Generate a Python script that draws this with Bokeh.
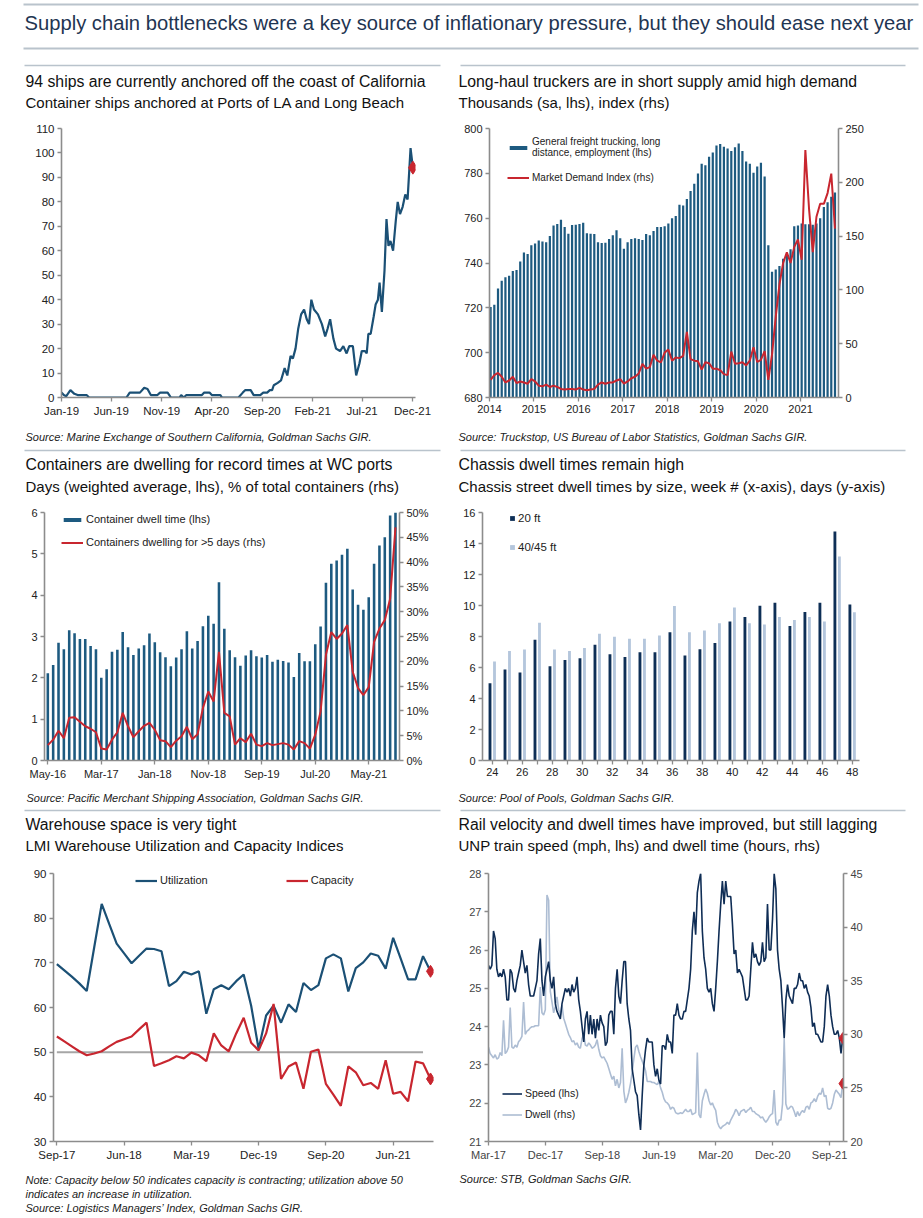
import numpy as np
import pandas as pd
from bokeh.plotting import figure
from bokeh.layouts import column, row
from bokeh.models import (Range1d, LinearAxis, FixedTicker, Legend, LegendItem,
                          DatetimeTickFormatter)
from bokeh.core.properties import value
from bokeh.embed import file_html
from bokeh.resources import INLINE

FONT = "Liberation Sans"
NAVY = "#1b5075"
BAR = "#1d5a80"
RED = "#c8262f"
AXIS = "#8c8c8c"
TXT = "#222222"
TTL = "#111111"
RULE = "#b9c3cc"

# ---------------- Panel 1: ships anchored ----------------
ships_dates = [
    "2019-01-01", "2019-01-08", "2019-01-15", "2019-01-28", "2019-02-09", "2019-02-19",
    "2019-03-18", "2019-03-26", "2019-07-17", "2019-07-27", "2019-08-27", "2019-09-09",
    "2019-09-19", "2019-09-29", "2019-10-19", "2019-10-27", "2019-11-19", "2019-11-29",
    "2019-12-25", "2019-12-30", "2020-01-07", "2020-01-15", "2020-03-02", "2020-03-09",
    "2020-03-25", "2020-04-01", "2020-04-27", "2020-05-02", "2020-06-21", "2020-07-04",
    "2020-07-11", "2020-07-28", "2020-08-06", "2020-08-26", "2020-09-04", "2020-09-16",
    "2020-09-24", "2020-10-01", "2020-10-06", "2020-10-18", "2020-10-28", "2020-11-08",
    "2020-11-16", "2020-11-26", "2020-12-03", "2020-12-11", "2020-12-19", "2020-12-28",
    "2021-01-06", "2021-01-14", "2021-01-21", "2021-01-28", "2021-02-05", "2021-02-17",
    "2021-03-01", "2021-03-11", "2021-03-18", "2021-03-26", "2021-04-05", "2021-04-13",
    "2021-04-25", "2021-05-05", "2021-05-15", "2021-05-23", "2021-06-03", "2021-06-13",
    "2021-06-23", "2021-06-30", "2021-07-10", "2021-07-15", "2021-07-20", "2021-07-27",
    "2021-08-05", "2021-08-11", "2021-08-18", "2021-08-23", "2021-08-30", "2021-09-07",
    "2021-09-13", "2021-09-19", "2021-09-25", "2021-10-03", "2021-10-11", "2021-10-17",
    "2021-10-24", "2021-11-01", "2021-11-09", "2021-11-16", "2021-11-25", "2021-12-02",
]
ships = [
    2, 1, 0.5, 3, 1.5, 1,
    1, 0, 0, 2, 2, 4,
    3.5, 1, 1, 2, 2, 0,
    0, 1, 0, 1, 1, 2,
    2, 1, 1, 0, 0, 2,
    3, 3, 1, 1, 2, 2,
    3, 3, 5, 6, 7, 12,
    9, 17, 16, 20, 28, 34,
    36, 32, 30, 40, 36, 34,
    30, 25, 28, 32, 24, 20,
    19, 21, 18, 21, 21, 9,
    14, 19, 19, 18, 26, 26,
    33, 38, 40, 47, 35, 52,
    73, 62, 64, 60, 72, 80,
    75, 78, 83, 81, 102, 94,
]
ships_ticks = ["2019-01-01", "2019-06-01", "2019-11-01", "2020-04-01", "2020-09-01",
               "2021-02-01", "2021-07-01", "2021-12-01"]
ships_yticks = list(range(0, 111, 10))

# ---------------- Panel 2: trucking ----------------
truck_years = ["2014", "2015", "2016", "2017", "2018", "2019", "2020", "2021"]
truck_emp = [
    720.4, 721.4, 728.6, 732.1, 733.6, 734.3, 736.4, 736.9, 740.7, 744.7, 744.0, 747.9,
    748.7, 750.0, 749.6, 749.3, 752.1, 756.7, 757.4, 759.3, 756.1, 753.1, 756.9, 757.1,
    757.4, 757.9, 753.3, 753.0, 752.9, 749.3, 748.9, 749.0, 750.7, 752.4, 754.6, 751.0,
    746.4, 749.3, 750.7, 751.0, 750.7, 750.3, 752.9, 752.4, 754.3, 756.1, 756.1, 756.4,
    757.6, 760.0, 761.0, 766.0, 765.7, 768.6, 772.1, 775.3, 779.9, 784.3, 783.6, 787.4,
    789.3, 792.4, 793.1, 791.9, 791.1, 790.0, 791.6, 793.3, 790.0, 785.3, 784.3, 780.3,
    783.1, 784.7, 778.6, 747.9, 736.1, 737.1, 738.7, 741.9, 743.6, 746.1, 756.4, 756.7,
    757.6, 757.3, 757.3, 757.1, 757.6, 760.0, 765.0, 767.1, 769.6, 771.4,
]
truck_mdi = [
    16.4, 20.8, 22.9, 19.3, 14.0, 15.8, 19.3, 13.4, 14.9, 14.0, 12.8, 17.0,
    14.9, 11.0, 10.4, 11.9, 9.8, 11.0, 9.8, 8.0, 7.4, 8.0, 8.0, 7.4,
    8.9, 7.4, 6.8, 7.4, 8.0, 11.9, 14.0, 12.8, 14.0, 14.0, 15.8, 17.0,
    12.8, 14.9, 17.9, 19.3, 22.3, 31.3, 26.8, 28.3, 39.6, 34.2, 32.7, 41.7,
    44.6, 34.2, 37.2, 36.6, 38.7, 61.0, 35.7, 34.2, 33.6, 25.9, 32.7, 31.8,
    26.8, 26.8, 25.3, 21.7, 20.8, 42.6, 31.3, 31.8, 32.7, 29.8, 34.2, 46.7,
    33.0, 35.0, 43.2, 16.4, 40.0, 75.0, 105.0, 125.0, 135.0, 125.0, 140.0, 147.0,
    128.0, 230.0, 175.0, 135.0, 168.0, 180.0, 180.0, 190.0, 208.0, 157.0,
]
truck_lticks = list(range(680, 801, 20))
truck_rticks = list(range(0, 251, 50))

# ---------------- Panel 3: container dwell ----------------
dwell_labels = ["May-16", "Mar-17", "Jan-18", "Nov-18", "Sep-19", "Jul-20", "May-21"]
dwell_time = [
    2.11, 2.31, 2.85, 2.69, 3.15, 3.08, 2.94, 2.94, 2.77, 2.69,
    2.0, 2.21, 2.63, 2.68, 3.11, 2.74, 2.55, 2.71, 2.79, 3.07,
    2.86, 2.62, 2.5, 2.28, 2.49, 2.69, 3.13, 2.71, 2.89, 3.25,
    3.5, 3.31, 4.31, 3.19, 2.67, 2.5, 2.29, 2.54, 2.67, 2.52,
    2.49, 2.55, 2.39, 2.44, 2.41, 2.37, 2.02, 2.6, 2.4, 2.4,
    2.81, 3.24, 4.3, 4.76, 4.84, 4.98, 5.12, 4.14, 3.77, 3.65,
    3.95, 4.76, 5.2, 5.4, 5.93, 6.0,
]
dwell_pct = [
    3.1, 4.2, 6.0, 4.5, 8.6, 8.7, 7.8, 6.9, 6.4, 5.7,
    2.4, 2.2, 4.2, 5.7, 9.6, 6.9, 4.7, 5.9, 7.0, 7.6,
    6.2, 4.1, 3.9, 2.7, 4.0, 4.9, 6.8, 4.3, 5.3, 10.6,
    13.9, 11.9, 21.9, 9.6, 8.9, 3.2, 4.5, 3.7, 5.4, 3.2,
    2.9, 3.5, 3.1, 3.3, 3.5, 3.2, 2.2, 3.9, 3.5, 2.4,
    5.2, 9.9, 21.3, 25.9, 24.5, 25.6, 27.3, 17.9, 14.6, 13.2,
    14.8, 23.9, 26.6, 28.3, 32.6, 47.0,
]
dwell_lticks = list(range(0, 7))
dwell_rticks = list(range(0, 51, 5))

# ---------------- Panel 4: chassis dwell ----------------
weeks = list(range(24, 49))
ft20 = [4.99, 5.87, 5.68, 7.79, 6.08, 6.48, 6.59, 7.47, 6.86, 6.67, 6.99, 6.99, 8.27,
        6.78, 7.18, 7.58, 8.97, 9.26, 9.98, 10.17, 8.67, 9.58, 10.17, 14.78, 10.06]
ft40 = [6.38, 7.07, 7.16, 8.88, 7.16, 7.07, 7.26, 8.17, 7.98, 7.85, 7.85, 8.06, 9.96,
        8.27, 8.38, 8.86, 9.87, 8.86, 8.78, 9.26, 9.07, 9.26, 8.97, 13.16, 9.56]
chassis_yticks = list(range(0, 17, 2))

# ---------------- Panel 5: LMI warehouse ----------------
lmi_labels = ["Sep-17", "Jun-18", "Mar-19", "Dec-19", "Sep-20", "Jun-21"]
lmi_util = [69.7, 68.3, 66.9, 65.4, 63.7, 73.5, 83.2, 78.7, 74.3, 72.1,
            69.9, 71.6, 73.2, 73.1, 72.6, 64.8, 65.9, 68.0, 67.4, 68.1,
            58.6, 64.1, 65.0, 64.1, 65.9, 67.4, 60.4, 50.7, 58.2, 60.4,
            56.6, 60.7, 59.0, 65.5, 63.9, 65.0, 71.0, 71.9, 71.0, 63.6,
            68.8, 70.1, 72.1, 71.6, 68.7, 75.6, 71.0, 66.3, 66.3, 71.5,
            68.1]
lmi_cap = [53.5, 52.4, 51.3, 50.2, 49.3, 49.7, 50.2, 51.3, 52.3, 52.9,
           53.5, 55.1, 56.6, 46.9, 47.5, 48.2, 49.1, 48.6, 49.9, 49.3,
           48.0, 54.2, 51.5, 50.2, 54.2, 57.7, 52.1, 50.4, 54.2, 60.8,
           44.0, 46.8, 47.7, 41.8, 50.1, 50.6, 42.9, 40.5, 38.0, 46.8,
           45.5, 42.6, 43.1, 41.8, 48.2, 40.7, 41.1, 39.0, 47.9, 47.5,
           44.0]
lmi_threshold = 50
lmi_yticks = list(range(30, 91, 10))

# ---------------- Panel 6: UNP rail ----------------
rail_start, rail_end = "2017-03-01", "2021-11-03"
rail_speed = [
    25.6, 25.5, 25.6, 26.5, 26.3, 25.5, 25.3, 25.4, 25.3, 25.5,
    25.3, 24.7, 24.7, 25.5, 25.4, 25.0, 24.9, 25.2, 25.4, 25.6,
    26.0, 25.7, 25.4, 25.6, 25.1, 24.8, 24.8, 24.8, 25.0, 25.2,
    25.9, 26.3, 25.2, 24.8, 25.3, 25.5, 25.7, 25.2, 25.0, 25.3,
    24.6, 24.4, 24.3, 24.2, 24.6, 24.8, 25.0, 24.9, 25.0, 24.8,
    25.1, 24.9, 25.0, 25.3, 24.7, 24.4, 24.0, 23.6, 24.2, 24.4,
    23.8, 24.3, 23.8, 24.2, 23.7, 24.2, 23.9, 24.3, 24.1, 24.0,
    23.5, 23.6, 24.3, 24.4, 24.4, 23.8, 25.0, 25.5, 24.8, 24.6,
    25.2, 25.7, 25.7, 24.6, 24.2, 23.9, 22.9, 22.6, 22.3, 22.2,
    21.7, 21.3, 22.2, 23.0, 23.4, 23.7, 23.6, 23.6, 23.6, 23.0,
    22.7, 22.9, 22.6, 22.5, 23.5, 23.5, 23.4, 23.8, 23.6, 23.6,
    23.3, 24.3, 24.3, 24.6, 24.3, 24.2, 24.2, 24.4, 24.4, 24.7,
    25.0, 25.5, 26.5, 27.0, 26.4, 27.5, 27.8, 28.0, 26.5, 25.8,
    25.5, 25.0, 24.9, 25.0, 24.6, 24.4, 25.0, 25.7, 26.5, 27.2,
    27.8, 27.2, 27.8, 27.4, 27.4, 27.4, 26.7, 25.9, 26.0, 25.4,
    25.5, 25.4, 25.3, 25.0, 24.7, 24.7, 24.8, 25.5, 26.2, 25.8,
    25.9, 25.7, 25.6, 25.7, 26.2, 25.7, 25.8, 27.2, 26.0, 26.0,
    26.8, 28.0, 27.6, 26.0, 25.5, 25.2, 24.5, 23.7, 24.7, 25.1,
    24.8, 24.7, 24.6, 25.0, 25.0, 25.1, 25.4, 25.2, 25.2, 25.0,
    25.1, 24.9, 24.8, 24.5, 24.0, 24.1, 23.8, 23.8, 23.7, 23.6,
    23.6, 24.0, 24.8, 25.1, 24.8, 24.3, 24.0, 23.8, 23.8, 23.9,
    23.7, 23.3, 23.7,
]
rail_dwell = [
    28.8, 28.2, 28.0, 27.8, 28.1, 27.7, 27.8, 28.3, 28.0, 31.3,
    28.2, 28.4, 28.8, 32.5, 28.8, 28.7, 29.0, 28.8, 29.3, 29.5,
    29.8, 33.0, 30.0, 30.3, 30.4, 30.6, 30.7, 30.7, 30.8, 30.8,
    30.8, 34.4, 32.0, 31.8, 32.3, 43.0, 42.5, 34.0, 33.0, 32.0,
    32.6, 33.5, 32.3, 31.8, 32.7, 31.5, 31.0, 30.5, 30.0, 29.7,
    29.3, 29.4, 29.0, 29.2, 28.8, 28.7, 29.6, 30.0, 29.0, 28.9,
    29.2, 29.0, 28.7, 28.8, 29.0, 29.5, 28.6, 28.0, 27.8, 27.9,
    27.6, 27.3, 26.8, 26.3, 25.8, 26.1, 25.2, 25.8, 25.0, 25.5,
    28.7, 24.7, 23.6, 24.0, 24.6, 25.4, 26.5, 27.7, 28.8, 29.0,
    28.4, 27.9, 27.5, 27.1, 26.6, 25.6, 25.6, 25.6, 25.5, 25.5,
    25.4, 25.3, 25.6, 25.0, 24.6, 24.0, 23.7, 23.6, 23.4, 23.0,
    23.2, 23.1, 22.7, 22.6, 22.6, 22.7, 22.6, 22.8, 23.0, 22.8,
    22.8, 23.0, 22.5, 22.6, 22.7, 28.3, 22.5, 22.2, 23.8, 24.4,
    24.9, 24.5, 23.8, 23.4, 23.6, 23.2, 22.9, 21.8, 21.4, 21.2,
    21.4, 21.5, 21.6, 21.8, 21.6, 22.0, 22.3, 22.6, 23.0, 22.8,
    22.4, 22.8, 22.9, 23.0, 22.7, 22.9, 23.0, 23.2, 22.8, 22.8,
    22.6, 22.5, 22.4, 22.2, 22.3, 22.0, 21.8, 22.0, 22.3, 22.5,
    22.6, 24.8, 21.8, 21.5, 22.0, 22.0, 23.5, 29.6, 23.5, 23.0,
    23.1, 23.3, 23.2, 22.8, 22.3, 22.8, 22.4, 22.7, 22.9, 22.7,
    23.2, 23.3, 23.0, 23.6, 23.7, 24.0, 23.7, 24.2, 24.5, 24.4,
    25.0, 24.2, 24.3, 23.1, 23.0, 23.1, 23.6, 24.4, 24.8, 24.6,
    24.4, 24.1, 25.4,
]
rail_ticks = ["2017-03-01", "2017-12-01", "2018-09-01", "2019-06-01", "2020-03-01",
              "2020-12-01", "2021-09-01"]
rail_lticks = list(range(21, 29))
rail_rticks = list(range(20, 46, 5))

# ---------------- layout constants (page pixels) ----------------
PAGE_W = 923
LW, RW = 457, 466          # column widths
LX, RX = 0, 457            # column left edges


# ---------------- helpers ----------------
def ms(d):
    return pd.Timestamp(d).value // 10**6


def canvas_fig(y0, h, rules=(), texts=()):
    """Full-width strip for titles, notes and rules; coordinates are page pixels."""
    f = figure(width=PAGE_W, height=h, x_range=Range1d(0, PAGE_W), y_range=Range1d(y0 + h, y0),
               min_border=0, toolbar_location=None, output_backend="svg", title=None,
               x_axis_location=None, y_axis_location=None)
    f.grid.visible = False
    f.outline_line_color = None
    for x0, x1, y, color, lw in rules:
        f.segment(x0=[x0], y0=[y], x1=[x1], y1=[y], line_color=color, line_width=lw)
    for x, y, txt, size, color, style in texts:
        f.text(x=[x], y=[y], text=[txt], text_font=value(FONT), text_font_size=size,
               text_color=color, text_font_style=style, text_baseline="middle",
               text_align="left")
    return f


def panel(x0, y0, w, h, fl, fr, ft, fb, **kw):
    # fl, fr, ft, fb: frame edges in page pixels
    p = figure(width=w, height=h, min_border_left=fl - x0,
               min_border_right=x0 + w - fr, min_border_top=ft - y0,
               min_border_bottom=y0 + h - fb, toolbar_location=None,
               output_backend="svg", title=None, **kw)
    p.grid.visible = False
    p.outline_line_color = None
    return p


def style_axes(p, size="11px", color=TXT):
    for ax in list(p.xaxis) + list(p.yaxis):
        ax.axis_line_color = AXIS
        ax.axis_line_width = 1.6
        ax.major_tick_line_color = AXIS
        ax.major_tick_line_width = 1.3
        ax.major_tick_out = 4
        ax.major_tick_in = 0
        ax.minor_tick_line_color = None
        ax.major_label_text_font = FONT
        ax.major_label_text_font_size = size
        ax.major_label_text_color = color
        ax.major_label_standoff = 3


def make_legend(items, loc, size="11px", gw=22, gh=5, spacing=10, orientation="vertical"):
    return Legend(items=items, location=loc, orientation=orientation,
                  label_text_font=FONT, label_text_font_size=size, label_text_color=TXT,
                  glyph_width=gw, glyph_height=gh, label_standoff=3, spacing=spacing,
                  padding=0, margin=0, label_height=10,
                  border_line_color=None, background_fill_alpha=0)


DTF = DatetimeTickFormatter(days="%b-%y", months="%b-%y", years="%b-%y")
TSZ, SSZ, SRC = "15.8px", "15px", "11px"
IT = "italic"

# ---------------- text strips ----------------
strip_a = canvas_fig(0, 116,
    rules=[(23, 918, 4, RULE, 2), (23, 918, 48, RULE, 2),
           (24, 440, 65, RULE, 1.3), (460, 905, 65, RULE, 1.3)],
    texts=[(24, 22, "Supply chain bottlenecks were a key source of inflationary pressure, but they should ease next year", "20.2px", "#1f3552", "normal"),
           (25, 80.5, "94 ships are currently anchored off the coast of California", TSZ, TTL, "normal"),
           (25, 102, "Container ships anchored at Ports of LA and Long Beach", SSZ, TTL, "normal"),
           (458, 80.5, "Long-haul truckers are in short supply amid high demand", TSZ, TTL, "normal"),
           (458, 102, "Thousands (sa, lhs), index (rhs)", SSZ, TTL, "normal")])

strip_b = canvas_fig(428, 72,
    rules=[(24, 440, 450, RULE, 1.3), (460, 905, 450, RULE, 1.3)],
    texts=[(25, 436, "Source: Marine Exchange of Southern California, Goldman Sachs GIR.", SRC, TXT, IT),
           (458, 436, "Source: Truckstop, US Bureau of Labor Statistics, Goldman Sachs GIR.", SRC, TXT, IT),
           (25, 464, "Containers are dwelling for record times at WC ports", TSZ, TTL, "normal"),
           (25, 486, "Days (weighted average, lhs), % of total containers (rhs)", SSZ, TTL, "normal"),
           (458, 464, "Chassis dwell times remain high", TSZ, TTL, "normal"),
           (458, 486, "Chassis street dwell times by size, week # (x-axis), days (y-axis)", SSZ, TTL, "normal")])

strip_c = canvas_fig(782, 78,
    rules=[(24, 440, 810, RULE, 1.3), (460, 905, 810, RULE, 1.3)],
    texts=[(26, 797, "Source: Pacific Merchant Shipping Association, Goldman Sachs GIR.", SRC, TXT, IT),
           (458, 797, "Source: Pool of Pools, Goldman Sachs GIR.", SRC, TXT, IT),
           (25, 824, "Warehouse space is very tight", TSZ, TTL, "normal"),
           (25, 845, "LMI Warehouse Utilization and Capacity Indices", SSZ, TTL, "normal"),
           (458, 824, "Rail velocity and dwell times have improved, but still lagging", TSZ, TTL, "normal"),
           (458, 845, "UNP train speed (mph, lhs) and dwell time (hours, rhs)", SSZ, TTL, "normal")])

strip_d = canvas_fig(1166, 48,
    texts=[(25, 1179, "Note: Capacity below 50 indicates capacity is contracting; utilization above 50", SRC, TXT, IT),
           (25, 1193, "indicates an increase in utilization.", SRC, TXT, IT),
           (25, 1207, "Source: Logistics Managers\u2019 Index, Goldman Sachs GIR.", SRC, TXT, IT),
           (459, 1178, "Source: STB, Goldman Sachs GIR.", SRC, TXT, IT)])

# ---------------- row 1 (y 116..428) ----------------
p1 = panel(LX, 116, LW, 312, 61, 415, 128, 397, x_axis_type="datetime",
           x_range=Range1d(pd.Timestamp("2019-01-01"), pd.Timestamp("2021-12-10")),
           y_range=Range1d(0, 110))
x1 = pd.to_datetime(ships_dates)
p1.line(x1, ships, line_color=NAVY, line_width=2.2)
p1.scatter([x1[-1]], [ships[-1]], marker="diamond", size=13, color=RED)
p1.xaxis.ticker = FixedTicker(ticks=[ms(d) for d in ships_ticks])
p1.xaxis.formatter = DTF
p1.yaxis.ticker = FixedTicker(ticks=ships_yticks)
style_axes(p1, "11.5px")

p2 = panel(RX, 116, RW, 312, 489, 838, 124, 405,
           x_range=Range1d(0, len(truck_emp) + 0.25), y_range=Range1d(680, 800))
x2 = np.arange(len(truck_emp)) + 0.3
p2.extra_y_ranges = {"r": Range1d(0, 250)}
b2 = p2.vbar(x=x2, top=truck_emp, bottom=680, width=0.6, fill_color=BAR, line_color=None)
l2 = p2.line(x2, truck_mdi, y_range_name="r", line_color=RED, line_width=2)
p2.add_layout(LinearAxis(y_range_name="r", ticker=FixedTicker(ticks=truck_rticks)), "right")
p2.xaxis.ticker = FixedTicker(ticks=[12 * i for i in range(len(truck_years))])
p2.xaxis.major_label_overrides = {12 * i: y for i, y in enumerate(truck_years)}
p2.yaxis[0].ticker = FixedTicker(ticks=truck_lticks)
style_axes(p2, "11px")
p2.add_layout(make_legend([LegendItem(label="General freight trucking, long\ndistance, employment (lhs)", renderers=[b2]),
                           LegendItem(label="Market Demand Index (rhs)", renderers=[l2])],
                          (18, 214), size="10px", gw=22, gh=5, spacing=14))

# ---------------- row 2 (y 500..782) ----------------
p3 = panel(LX, 500, LW, 282, 44, 399, 512, 761,
           x_range=Range1d(-0.62, len(dwell_time) - 0.25), y_range=Range1d(0, 6))
x3 = np.arange(len(dwell_time))
p3.extra_y_ranges = {"r": Range1d(0, 50)}
b3 = p3.vbar(x=x3, top=dwell_time, width=0.48, fill_color=BAR, line_color=None)
l3 = p3.line(x3, dwell_pct, y_range_name="r", line_color=RED, line_width=2)
ax3 = LinearAxis(y_range_name="r", ticker=FixedTicker(ticks=dwell_rticks))
ax3.major_label_overrides = {t: f"{t}%" for t in dwell_rticks}
p3.add_layout(ax3, "right")
p3.xaxis.ticker = FixedTicker(ticks=[10 * i for i in range(len(dwell_labels))])
p3.xaxis.major_label_overrides = {10 * i: s for i, s in enumerate(dwell_labels)}
p3.yaxis[0].ticker = FixedTicker(ticks=dwell_lticks)
style_axes(p3, "11px")
p3.add_layout(make_legend([LegendItem(label="Container dwell time (lhs)", renderers=[b3]),
                           LegendItem(label="Containers dwelling for >5 days (rhs)", renderers=[l3])],
                          (17, 212), size="11px", gw=22, gh=5, spacing=11))

p4 = panel(RX, 500, RW, 282, 482, 859, 508, 762,
           x_range=Range1d(23.35, 48.49), y_range=Range1d(0, 16))
wk = np.array(weeks)
b4a = p4.vbar(x=wk - 0.15, top=ft20, width=0.19, fill_color="#0e2f56", line_color=None)
b4b = p4.vbar(x=wk + 0.15, top=ft40, width=0.19, fill_color="#b4c6dc", line_color=None)
p4.xaxis.ticker = FixedTicker(ticks=weeks)
p4.xaxis.major_label_overrides = {w: (str(w) if w % 2 == 0 else "") for w in weeks}
p4.yaxis.ticker = FixedTicker(ticks=chassis_yticks)
style_axes(p4, "11px")
p4.add_layout(make_legend([LegendItem(label="20 ft", renderers=[b4a]),
                           LegendItem(label="40/45 ft", renderers=[b4b])],
                          (27, 207), size="11.5px", gw=6, gh=6, spacing=17))

# ---------------- row 3 (y 860..1166) ----------------
p5 = panel(LX, 860, LW, 306, 53, 433, 868, 1142,
           x_range=Range1d(-0.45, len(lmi_util) - 0.6), y_range=Range1d(30, 90))
x5 = np.arange(len(lmi_util))
p5.line([x5[0], x5[-2]], [lmi_threshold, lmi_threshold], line_color="#a6a6a6", line_width=2)
l5a = p5.line(x5, lmi_util, line_color=NAVY, line_width=2.2)
l5b = p5.line(x5, lmi_cap, line_color=RED, line_width=2.2)
p5.scatter([x5[-1], x5[-1]], [lmi_util[-1], lmi_cap[-1]], marker="diamond", size=12, color=RED)
p5.xaxis.ticker = FixedTicker(ticks=[9 * i for i in range(len(lmi_labels))])
p5.xaxis.major_label_overrides = {9 * i: s for i, s in enumerate(lmi_labels)}
p5.yaxis.ticker = FixedTicker(ticks=lmi_yticks)
style_axes(p5, "11.5px")
p5.add_layout(make_legend([LegendItem(label="Utilization", renderers=[l5a]),
                           LegendItem(label="Capacity", renderers=[l5b])],
                          (82, 255), size="11px", gw=22, gh=5, spacing=78, orientation="horizontal"))

p6 = panel(RX, 860, RW, 306, 488, 843, 873, 1141, x_axis_type="datetime",
           x_range=Range1d(pd.Timestamp("2017-03-01"), pd.Timestamp("2021-11-07")),
           y_range=Range1d(21, 28))
x6 = pd.date_range(rail_start, rail_end, periods=len(rail_speed))
p6.extra_y_ranges = {"r": Range1d(20, 45)}
l6b = p6.line(x6, rail_dwell, y_range_name="r", line_color="#adbdd3", line_width=1.6)
l6a = p6.line(x6, rail_speed, line_color="#0f2d55", line_width=1.6)
p6.scatter([x6[-1]], [rail_speed[-1]], marker="diamond", size=11, color=RED)
p6.scatter([x6[-1]], [rail_dwell[-1]], marker="diamond", size=11, color=RED, y_range_name="r")
p6.add_layout(LinearAxis(y_range_name="r", ticker=FixedTicker(ticks=rail_rticks)), "right")
p6.xaxis.ticker = FixedTicker(ticks=[ms(d) for d in rail_ticks])
p6.xaxis.formatter = DTF
p6.yaxis[0].ticker = FixedTicker(ticks=rail_lticks)
style_axes(p6, "11px", color="#444444")
p6.add_layout(make_legend([LegendItem(label="Speed (lhs)", renderers=[l6a]),
                           LegendItem(label="Dwell (rhs)", renderers=[l6b])],
                          (14, 21), size="10.5px", gw=20, gh=5, spacing=9))

layout = column(
    strip_a,
    row(p1, p2),
    strip_b,
    row(p3, p4),
    strip_c,
    row(p5, p6),
    strip_d,
)

open("out.html", "w").write(file_html(layout, INLINE))
